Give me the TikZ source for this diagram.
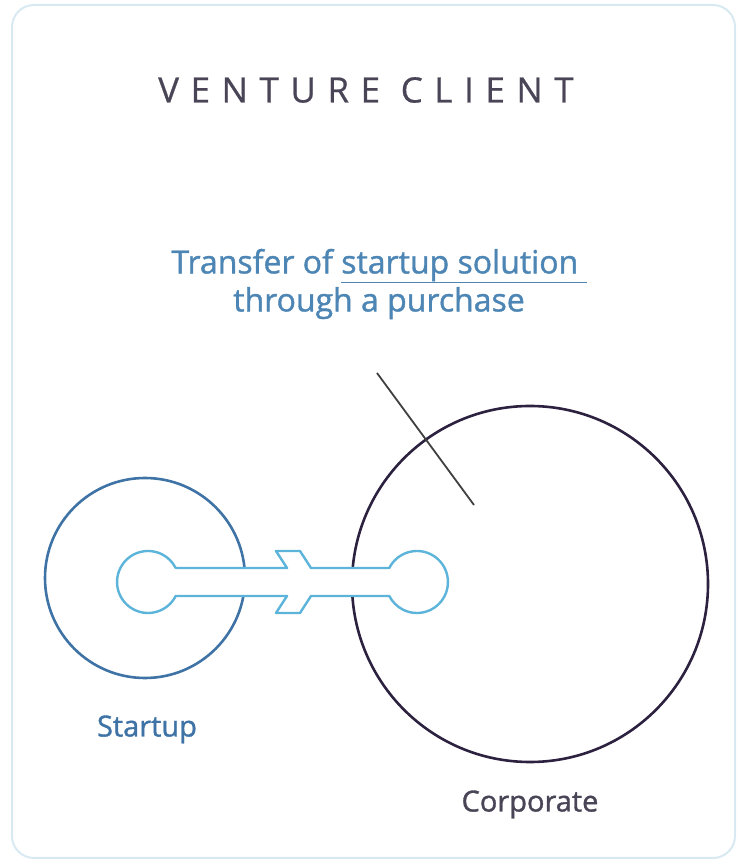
\documentclass[tikz,border=0pt]{standalone}
\usepackage{fontspec}
\setmainfont{Open Sans}[FakeBold=1.2]
\newfontfamily\titlefont[LetterSpace=33,FakeBold=0.6]{Open Sans}
\definecolor{framegray}{HTML}{D8E9F1}
\definecolor{titlegray}{HTML}{4A4556}
\definecolor{captionblue}{HTML}{4D86B4}
\definecolor{startupblue}{HTML}{3F73A6}
\definecolor{corpdark}{HTML}{2C2240}
\definecolor{plugblue}{HTML}{5CB4DA}
\usetikzlibrary{positioning}

\begin{document}
\begin{tikzpicture}[
  x=1pt, y=1pt,
  panel/.style={
    draw=framegray,
    line width=2pt,
    rounded corners=22pt
  },
  firm/.style={
    circle,
    draw,
    line width=2.6pt,
    inner sep=0pt
  },
  firmlabel/.style={
    inner sep=0pt,
    font=\fontsize{29}{34}\selectfont
  },
  plug/.style={
    draw=plugblue,
    fill=white,
    line width=2.4pt,
    line join=round
  }
]
\useasboundingbox (0,0) rectangle (740,862);
\draw [panel] (12,4) rectangle (735,857);

% title and caption
\node [inner sep=0pt, text=titlegray, font=\titlefont\fontsize{35}{40}\selectfont]
  (title) at (366,772) {VENTURE CLIENT};
\node [inner sep=0pt, text=captionblue, align=center,
       font=\fontsize{32}{38}\selectfont]
  (caption) at (379,578) {Transfer of \underline{startup solution\ }\\through a purchase};

% the two firms
\node [firm, draw=startupblue, minimum size=200pt] (startup) at (145,284) {};
\node [firm, draw=corpdark, minimum size=356pt] (corporate) at (530,278) {};
\node [firmlabel, text=startupblue, below=36pt of startup, xshift=2pt] (startuplabel) {Startup};
\node [firmlabel, text=titlegray, below=27pt of corporate] (corplabel) {Corporate};

% pointer
\coordinate (pointertop) at (377,489);
\coordinate (pointerend) at (474,357);
\draw [line width=1.8pt, black!75] (pointertop) -- (pointerend);

% connector between the firms
\coordinate (knobL) at (148,280);
\coordinate (knobR) at (417,280);
\draw [plug]
  (175.7,294) -- (287,294) -- (276,311) -- (300,311) -- (311,294) -- (389.3,294)
  arc [start angle=153.15, end angle=-153.15, radius=31]
  -- (311,266) -- (300,249) -- (276,249) -- (287,266) -- (175.7,266)
  arc [start angle=-26.85, end angle=-333.15, radius=31]
  -- cycle;

\end{tikzpicture}
\end{document}
